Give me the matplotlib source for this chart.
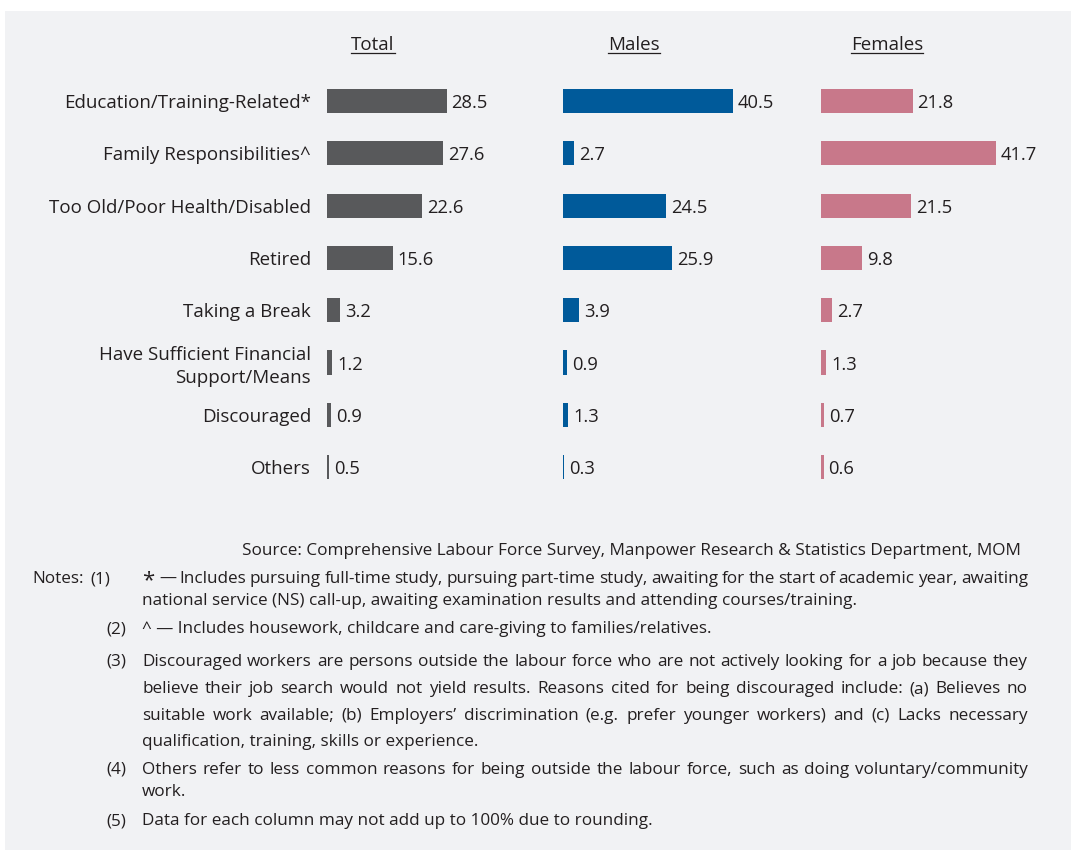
import matplotlib
matplotlib.use("Agg")
import matplotlib.pyplot as plt
from matplotlib.patches import Rectangle
from matplotlib.lines import Line2D

# ---- data -------------------------------------------------------------
categories = [
    "Education/Training-Related*",
    "Family Responsibilities^",
    "Too Old/Poor Health/Disabled",
    "Retired",
    "Taking a Break",
    "Have Sufficient Financial\nSupport/Means",
    "Discouraged",
    "Others",
]
total = [28.5, 27.6, 22.6, 15.6, 3.2, 1.2, 0.9, 0.5]
males = [40.5, 2.7, 24.5, 25.9, 3.9, 0.9, 1.3, 0.3]
females = [21.8, 41.7, 21.5, 9.8, 2.7, 1.3, 0.7, 0.6]
panel_titles = ["Total", "Males", "Females"]

source_text = ("Source: Comprehensive Labour Force Survey, Manpower Research & "
               "Statistics Department, MOM")

# ---- style ------------------------------------------------------------
W, H = 1071, 850
BG = "#f1f2f4"
TXT = "#231f20"
COLORS = ["#58595b", "#005a9a", "#c8788a"]
FONT = "Open Sans"
plt.rcParams["font.family"] = [FONT, "DejaVu Sans"]

LFS = 13.5   # category labels / headers
VFS = 13.2   # value labels
NFS = 12.3   # source and notes

fig = plt.figure(figsize=(W / 100, H / 100), dpi=100)
fig.patch.set_facecolor("white")

def fx(px):
    return px / W

def fy(py):
    return 1 - py / H

# grey panel behind everything
fig.add_artist(Rectangle((fx(5), 0), fx(1066), 1 - 11 / H,
                         transform=fig.transFigure, facecolor=BG,
                         edgecolor="none", zorder=-10))

# ---- bar panels -------------------------------------------------------
PX_PER_UNIT = 4.2
row_top, row_step = 101, 52.3
n = len(categories)
ax_top = row_top - row_step / 2
ax_h = row_step * n
ax_w = 50 * PX_PER_UNIT
lefts = [327, 563, 821]
title_x = [373, 634, 887]
series = [total, males, females]

for k, (left, vals, col) in enumerate(zip(lefts, series, COLORS)):
    ax = fig.add_axes([fx(left), fy(ax_top + ax_h), fx(ax_w), ax_h / H])
    ax.set_facecolor("none")
    ypos = list(range(n))
    ax.barh(ypos, vals, height=0.46, color=col, edgecolor="none")
    ax.set_xlim(0, 50)
    ax.set_ylim(n - 0.5, -0.5)
    for s in ax.spines.values():
        s.set_visible(False)
    ax.set_xticks([])
    if k == 0:
        ax.set_yticks(ypos)
        ax.set_yticklabels(categories, fontsize=LFS, color=TXT)
        for lab in ax.get_yticklabels():
            lab.set_multialignment("right")
            lab.set_linespacing(1.3)
        ax.tick_params(axis="y", length=0, pad=11.5)
    else:
        ax.set_yticks([])
    for i, v in enumerate(vals):
        ax.annotate(f"{v:.1f}", xy=(v, i), xytext=(3.5, -1.5),
                    textcoords="offset points", ha="left", va="center",
                    fontsize=VFS, color=TXT)

# underlined column headers
fig.canvas.draw()
renderer = fig.canvas.get_renderer()
for tx, label in zip(title_x, panel_titles):
    t = fig.text(fx(tx), fy(45), label, ha="center", va="center",
                 fontsize=LFS, color=TXT)
    bb = t.get_window_extent(renderer)
    uy = bb.y0 + 1
    fig.add_artist(Line2D([bb.x0 / W, bb.x1 / W], [uy / H, uy / H],
                          transform=fig.transFigure, color=TXT, lw=0.9))

# ---- source and notes -------------------------------------------------
fig.text(fx(1021), fy(551), source_text, ha="right", va="center",
         fontsize=NFS, color=TXT)

def plain(x, y, s, **kw):
    return fig.text(fx(x), fy(y), s, va="center",
                    ha=kw.pop("ha", "left"),
                    fontsize=kw.pop("fontsize", NFS), color=TXT, **kw)

def justified(x0, x1, y, s):
    words = s.split(" ")
    arts = [plain(x0, y, w_) for w_ in words]
    widths = [a.get_window_extent(renderer).width for a in arts]
    gap = (x1 - x0 - sum(widths)) / (len(words) - 1)
    x = x0
    for a, w_ in zip(arts, widths):
        a.set_x(fx(x))
        x += w_ + gap

TX0, TX1 = 142, 1028
plain(84, 579, "Notes:", ha="right")
plain(90, 579, "(1)")
plain(TX0, 581, "*", fontsize=16)
justified(TX0 + 17, TX1, 579,
          "— Includes pursuing full-time study, pursuing part-time study, "
          "awaiting for the start of academic year, awaiting")
plain(TX0, 601, "national service (NS) call-up, awaiting examination results "
      "and attending courses/training.")
plain(106, 629, "(2)")
plain(TX0, 629, "^ — Includes housework, childcare and care-giving to "
      "families/relatives.")
plain(106, 662, "(3)")
justified(TX0, TX1, 662, "Discouraged workers are persons outside the labour "
          "force who are not actively looking for a job because they")
justified(TX0, TX1, 689, "believe their job search would not yield results. "
          "Reasons cited for being discouraged include: (a) Believes no")
justified(TX0, TX1, 716, "suitable work available; (b) Employers’ "
          "discrimination (e.g. prefer younger workers) and (c) Lacks necessary")
plain(TX0, 742, "qualification, training, skills or experience.")
plain(106, 770, "(4)")
justified(TX0, TX1, 770, "Others refer to less common reasons for being "
          "outside the labour force, such as doing voluntary/community")
plain(TX0, 792, "work.")
plain(106, 821, "(5)")
plain(TX0, 821, "Data for each column may not add up to 100% due to rounding.")

fig.savefig("out.png", dpi=100, facecolor=fig.get_facecolor())
